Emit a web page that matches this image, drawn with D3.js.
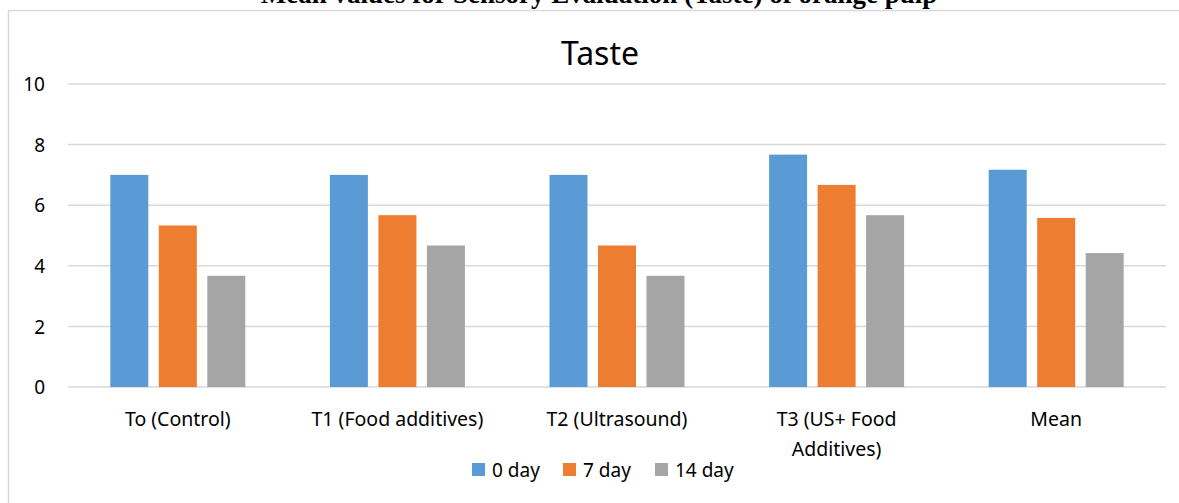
<!DOCTYPE html>
<html>
<head>
<meta charset="utf-8">
<script src="https://cdn.jsdelivr.net/npm/d3@7/dist/d3.min.js"></script>
<style>
  html, body { margin: 0; padding: 0; background: #fff; }
  svg { display: block; }
</style>
</head>
<body>
<svg id="chart" width="1179" height="503"></svg>
<script>
// Sensory evaluation scores (taste) for orange pulp by treatment and storage day
const categories = ["To (Control)", "T1 (Food additives)", "T2 (Ultrasound)", "T3 (US+ Food Additives)", "Mean"];
const seriesNames = ["0 day", "7 day", "14 day"];
const day0 = [7.00, 7.00, 7.00, 7.67, 7.17];
const day7 = [5.33, 5.67, 4.67, 6.67, 5.58];
const day14 = [3.67, 4.67, 3.67, 5.67, 4.42];
const yTicks = [0, 2, 4, 6, 8, 10];
const colors = ["#5b9bd5", "#ed7d31", "#a5a5a5"];

const series = [day0, day7, day14];
const svg = d3.select("#chart");
const font = "'Noto Sans', 'Open Sans', sans-serif";

// Outer chart frame
svg.append("rect")
  .attr("x", 8.5).attr("y", 10.5)
  .attr("width", 1190).attr("height", 520)
  .attr("fill", "#fff").attr("stroke", "#d9d9d9").attr("stroke-width", 1.5);

// Document caption above the frame
svg.append("text")
  .attr("x", 599).attr("y", 3)
  .attr("text-anchor", "middle")
  .attr("font-family", "'Liberation Serif', 'Times New Roman', serif")
  .attr("font-weight", "bold")
  .attr("font-size", 27)
  .text("Mean values for Sensory Evaluation (Taste) of orange pulp");

const plot = { left: 68, right: 1166, top: 84, bottom: 387 };

const x = d3.scaleBand()
  .domain(categories)
  .range([plot.left, plot.right])
  .paddingInner(0).paddingOuter(0);

// Bars within a category: width 38, gap 10.5, centred in the band
const groupWidth = 135;
const x1 = d3.scaleBand()
  .domain(d3.range(series.length))
  .range([(x.bandwidth() - groupWidth) / 2, (x.bandwidth() + groupWidth) / 2])
  .paddingInner(10.5 / 48.5)
  .paddingOuter(0);

const y = d3.scaleLinear().domain([0, 10]).range([plot.bottom, plot.top]);

// Horizontal gridlines
svg.append("g")
  .selectAll("line")
  .data(yTicks)
  .join("line")
  .attr("x1", plot.left).attr("x2", plot.right)
  .attr("y1", d => y(d)).attr("y2", d => y(d))
  .attr("stroke", "#d9d9d9").attr("stroke-width", 1.5);

// Y axis labels
const yAxis = d3.axisLeft(y).tickValues(yTicks).tickSize(0).tickPadding(0);
const gy = svg.append("g").attr("transform", "translate(45,0)").call(yAxis);
gy.select(".domain").remove();
gy.selectAll("text")
  .attr("font-family", font).attr("font-size", 19).attr("fill", "#000")
  .attr("dy", "0.35em");

// Bars
const groups = svg.append("g")
  .selectAll("g")
  .data(categories)
  .join("g")
  .attr("transform", d => `translate(${x(d)},0)`);

groups.selectAll("rect")
  .data((d, i) => series.map((s, k) => ({ k, v: s[i] })))
  .join("rect")
  .attr("x", d => x1(d.k))
  .attr("width", x1.bandwidth())
  .attr("y", d => y(d.v))
  .attr("height", d => y(0) - y(d.v))
  .attr("fill", d => colors[d.k]);

// Category labels (wrapped to the band width)
const xAxis = d3.axisBottom(x).tickSize(0).tickPadding(0);
const gx = svg.append("g").attr("transform", `translate(0,${plot.bottom})`).call(xAxis);
gx.select(".domain").remove();
gx.selectAll("text").remove();
gx.selectAll(".tick").each(function(d) {
  const t = d3.select(this).append("text")
    .attr("font-family", font).attr("font-size", 19.5).attr("fill", "#000")
    .attr("text-anchor", "middle");
  const lines = d === "T3 (US+ Food Additives)" ? ["T3 (US+ Food", "Additives)"] : [d];
  lines.forEach((ln, i) => {
    t.append("tspan").attr("x", 0).attr("y", 39 + i * 30).text(ln);
  });
});

// Chart title
svg.append("text")
  .attr("x", 600).attr("y", 65)
  .attr("text-anchor", "middle")
  .attr("font-family", font).attr("font-size", 32).attr("fill", "#000")
  .text("Taste");

// Legend
const legendItems = [
  { name: seriesNames[0], x: 472 },
  { name: seriesNames[1], x: 563 },
  { name: seriesNames[2], x: 655 }
];
const lg = svg.append("g").selectAll("g").data(legendItems).join("g")
  .attr("transform", d => `translate(${d.x},463)`);
lg.append("rect").attr("width", 13).attr("height", 13)
  .attr("fill", (d, i) => colors[i]);
lg.append("text").attr("x", 20).attr("y", 13.5)
  .attr("font-family", font).attr("font-size", 19).attr("fill", "#000")
  .text(d => d.name);
</script>
</body>
</html>
